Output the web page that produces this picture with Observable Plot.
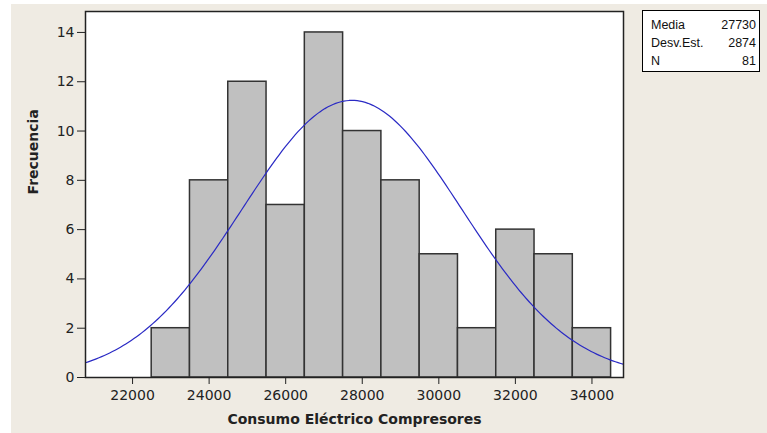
<!DOCTYPE html>
<html><head><meta charset="utf-8">
<script src="https://cdn.jsdelivr.net/npm/d3@7"></script>
<script src="https://cdn.jsdelivr.net/npm/@observablehq/plot@0.6"></script>
<style>
html,body{margin:0;padding:0;background:#fff;width:767px;height:433px;overflow:hidden}
#wrap{position:absolute;left:11px;top:4px;width:756px;height:429px;background:#EFEBE3}
#legend{position:absolute;left:631px;top:6px;width:116px;height:60px;background:#fff;border:1px solid #000;font-family:"Liberation Sans",sans-serif;font-size:12.5px;color:#111}
#legend .row{position:absolute;left:8px;right:3px;height:14px;line-height:14px}
#legend .row span.v{position:absolute;right:0}
#chart svg{display:block}
</style></head>
<body>
<div id="wrap"><div id="chart"></div>
<div id="legend"></div></div>
<script>
// Histogram bins (centres) and counts
const binCenters = [23000,24000,25000,26000,27000,28000,29000,30000,31000,32000,33000,34000];
const counts     = [2,8,12,7,14,10,8,5,2,6,5,2];
const binWidth = 1000;
// Summary statistics shown in the legend
const statLabels = ["Media","Desv.Est.","N"];
const statValues = [27730, 2874, 81];
const xTicks = [22000,24000,26000,28000,30000,32000,34000];
const yTicks = [0,2,4,6,8,10,12,14];

const [mu, sd, n] = statValues;
const bars = binCenters.map((c,i)=>({x1:c-binWidth/2, x2:c+binWidth/2, count:counts[i]}));
const xDom = [20771, 34824];
const curve = d3.range(0, 201).map(i=>{
  const x = xDom[0] + (xDom[1]-xDom[0])*i/200;
  const y = n*binWidth/(sd*Math.sqrt(2*Math.PI))*Math.exp(-0.5*((x-mu)/sd)**2);
  return {x,y};
});

const plot = Plot.plot({
  width:756, height:429,
  marginLeft:74, marginTop:7, marginRight:144, marginBottom:56,
  x:{domain:xDom},
  y:{domain:[0,14.85]},
  style:{background:"transparent", fontFamily:"DejaVu Sans", fontSize:"14px", color:"#222"},
  marks:[
    Plot.frame({fill:"#fff"}),
    Plot.rectY(bars,{x1:"x1",x2:"x2",y:"count",fill:"#C0C0C0",stroke:"#333",strokeWidth:1.5}),
    Plot.line(curve,{x:"x",y:"y",stroke:"#2A2AC4",strokeWidth:1.2,clip:"frame"}),
    Plot.frame({stroke:"#222",strokeWidth:1.5}),
    Plot.axisX({ticks:xTicks, tickSize:7, tickPadding:6, label:null, tickFormat:d=>String(d)}),
    Plot.axisY({ticks:yTicks, tickSize:8, tickPadding:3, label:null}),
    Plot.text(["Consumo Eléctrico Compresores"],{frameAnchor:"bottom", lineAnchor:"middle", dy:42, fontWeight:"bold", fontSize:14, fill:"#222"}),
    Plot.text(["Frecuencia"],{frameAnchor:"left", lineAnchor:"middle", dx:-52, rotate:-90, fontWeight:"bold", fontSize:14, fill:"#222"})
  ]
});
document.getElementById("chart").appendChild(plot);

const leg = document.getElementById("legend");
statLabels.forEach((l,i)=>{
  const r = document.createElement("div");
  r.className="row";
  r.style.top = (7 + i*18) + "px";
  r.innerHTML = `<span>${l}</span><span class="v">${statValues[i]}</span>`;
  leg.appendChild(r);
});
</script>
</body></html>
